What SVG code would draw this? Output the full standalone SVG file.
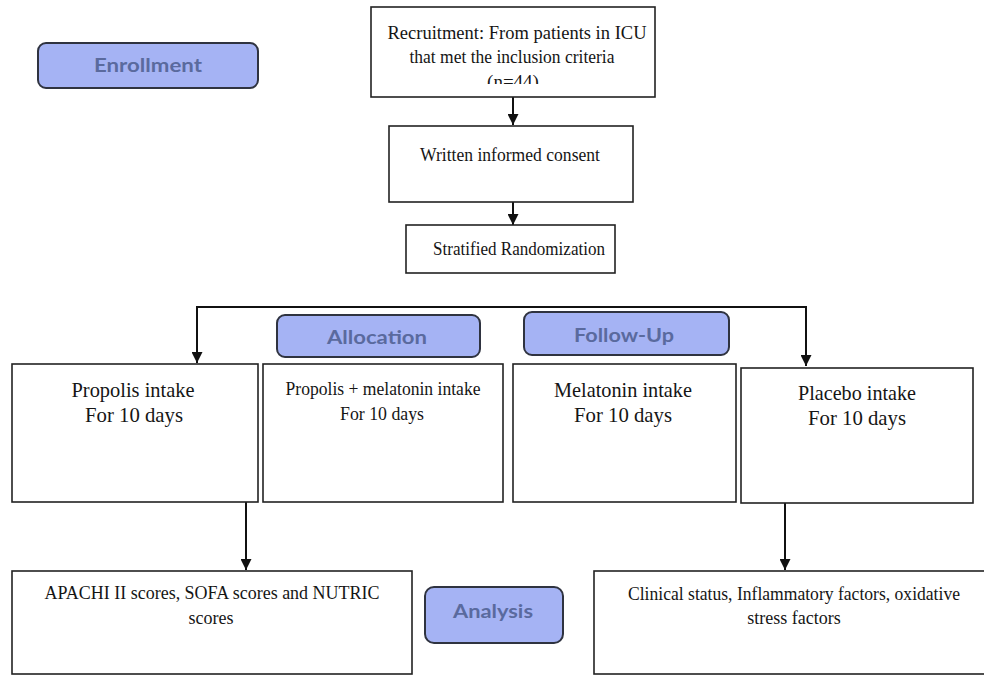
<svg xmlns="http://www.w3.org/2000/svg" width="984" height="676" viewBox="0 0 984 676">
<style>
.box{fill:#fff;stroke:#222;stroke-width:1.6}
.badge{fill:#a5b3f4;stroke:#2f3340;stroke-width:2}
.t{font-family:"Liberation Serif","Times New Roman",serif;fill:#151515;text-anchor:middle}
.b{font-family:Lato,"Open Sans","Liberation Sans",sans-serif;font-weight:bold;fill:#5a6a9e;text-anchor:middle;font-size:19px}
.c{fill:none;stroke:#111;stroke-width:2}
</style>
<defs>
<marker id="ah" viewBox="0 0 10 10" refX="10" refY="5" markerWidth="11" markerHeight="11" orient="auto" markerUnits="userSpaceOnUse">
<path d="M0,0 L10,5 L0,10 z" fill="#111"/>
</marker>
<clipPath id="clipR"><rect x="371" y="7" width="284" height="77"/></clipPath>
</defs>
<rect width="984" height="676" fill="#fff"/>

<g id="connectors">
<line class="c" x1="513" y1="97" x2="513" y2="125" marker-end="url(#ah)"/>
<line class="c" x1="513" y1="202" x2="513" y2="225" marker-end="url(#ah)"/>
<polyline class="c" points="502,307 197,307 197,363" marker-end="url(#ah)"/>
<polyline class="c" points="500,307 806,307 806,366" marker-end="url(#ah)"/>
<line class="c" x1="246" y1="502" x2="246" y2="570" marker-end="url(#ah)"/>
<line class="c" x1="785" y1="503" x2="785" y2="570" marker-end="url(#ah)"/>
</g>

<g id="enrollment">
<rect class="badge" x="38" y="43" width="220" height="45" rx="8"/>
<text class="b" x="148" y="72" textLength="108" lengthAdjust="spacingAndGlyphs">Enrollment</text>
</g>

<g id="recruitment">
<rect class="box" x="371" y="7" width="284" height="90"/>
<text class="t" font-size="19" x="517" y="39" textLength="259" lengthAdjust="spacingAndGlyphs">Recruitment:  From patients in ICU</text>
<text class="t" font-size="19" x="512" y="63" textLength="205" lengthAdjust="spacingAndGlyphs">that met the inclusion  criteria</text>
<text class="t" font-size="19" x="513" y="88" clip-path="url(#clipR)">(n=44)</text>
</g>

<g id="consent">
<rect class="box" x="389" y="126" width="244" height="76"/>
<text class="t" font-size="18.5" x="510" y="161" textLength="180" lengthAdjust="spacingAndGlyphs">Written  informed  consent</text>
</g>

<g id="randomization">
<rect class="box" x="406" y="225" width="209" height="48"/>
<text class="t" font-size="18.5" x="519" y="255" textLength="172" lengthAdjust="spacingAndGlyphs">Stratified  Randomization</text>
</g>

<g id="allocation">
<rect class="badge" x="277" y="315" width="203" height="42" rx="8"/>
<text class="b" x="377" y="344" textLength="100" lengthAdjust="spacingAndGlyphs">Allocation</text>
</g>

<g id="followup">
<rect class="badge" x="524" y="312" width="205" height="43" rx="8"/>
<text class="b" x="624" y="342" textLength="100" lengthAdjust="spacingAndGlyphs">Follow-Up</text>
</g>

<g id="propolis">
<rect class="box" x="12" y="364" width="246" height="138"/>
<text class="t" font-size="21" x="133" y="397" textLength="123" lengthAdjust="spacingAndGlyphs">Propolis intake</text>
<text class="t" font-size="21" x="134" y="422" textLength="98" lengthAdjust="spacingAndGlyphs">For 10 days</text>
</g>

<g id="propolis-melatonin">
<rect class="box" x="263" y="364" width="240" height="138"/>
<text class="t" font-size="18.5" x="383" y="395" textLength="195" lengthAdjust="spacingAndGlyphs">Propolis + melatonin  intake</text>
<text class="t" font-size="18.5" x="382" y="420" textLength="84" lengthAdjust="spacingAndGlyphs">For 10 days</text>
</g>

<g id="melatonin">
<rect class="box" x="513" y="364" width="223" height="138"/>
<text class="t" font-size="21" x="623" y="397" textLength="138" lengthAdjust="spacingAndGlyphs">Melatonin intake</text>
<text class="t" font-size="21" x="623" y="422" textLength="98" lengthAdjust="spacingAndGlyphs">For 10 days</text>
</g>

<g id="placebo">
<rect class="box" x="741" y="368" width="232" height="135"/>
<text class="t" font-size="21" x="857" y="400" textLength="118" lengthAdjust="spacingAndGlyphs">Placebo intake</text>
<text class="t" font-size="21" x="857" y="425" textLength="98" lengthAdjust="spacingAndGlyphs">For 10 days</text>
</g>

<g id="outcomes-scores">
<rect class="box" x="12" y="571" width="400" height="103"/>
<text class="t" font-size="18" x="212" y="599" textLength="335" lengthAdjust="spacingAndGlyphs">APACHI II scores,  SOFA scores and NUTRIC</text>
<text class="t" font-size="18" x="211" y="624">scores</text>
</g>

<g id="analysis">
<rect class="badge" x="425" y="587" width="138" height="56" rx="9"/>
<text class="b" x="493" y="618" textLength="80" lengthAdjust="spacingAndGlyphs">Analysis</text>
</g>

<g id="outcomes-clinical">
<rect class="box" x="594" y="571" width="392" height="103"/>
<text class="t" font-size="18" x="794" y="600" textLength="332" lengthAdjust="spacingAndGlyphs">Clinical  status, Inflammatory  factors, oxidative</text>
<text class="t" font-size="18" x="794" y="624">stress factors</text>
</g>
</svg>
